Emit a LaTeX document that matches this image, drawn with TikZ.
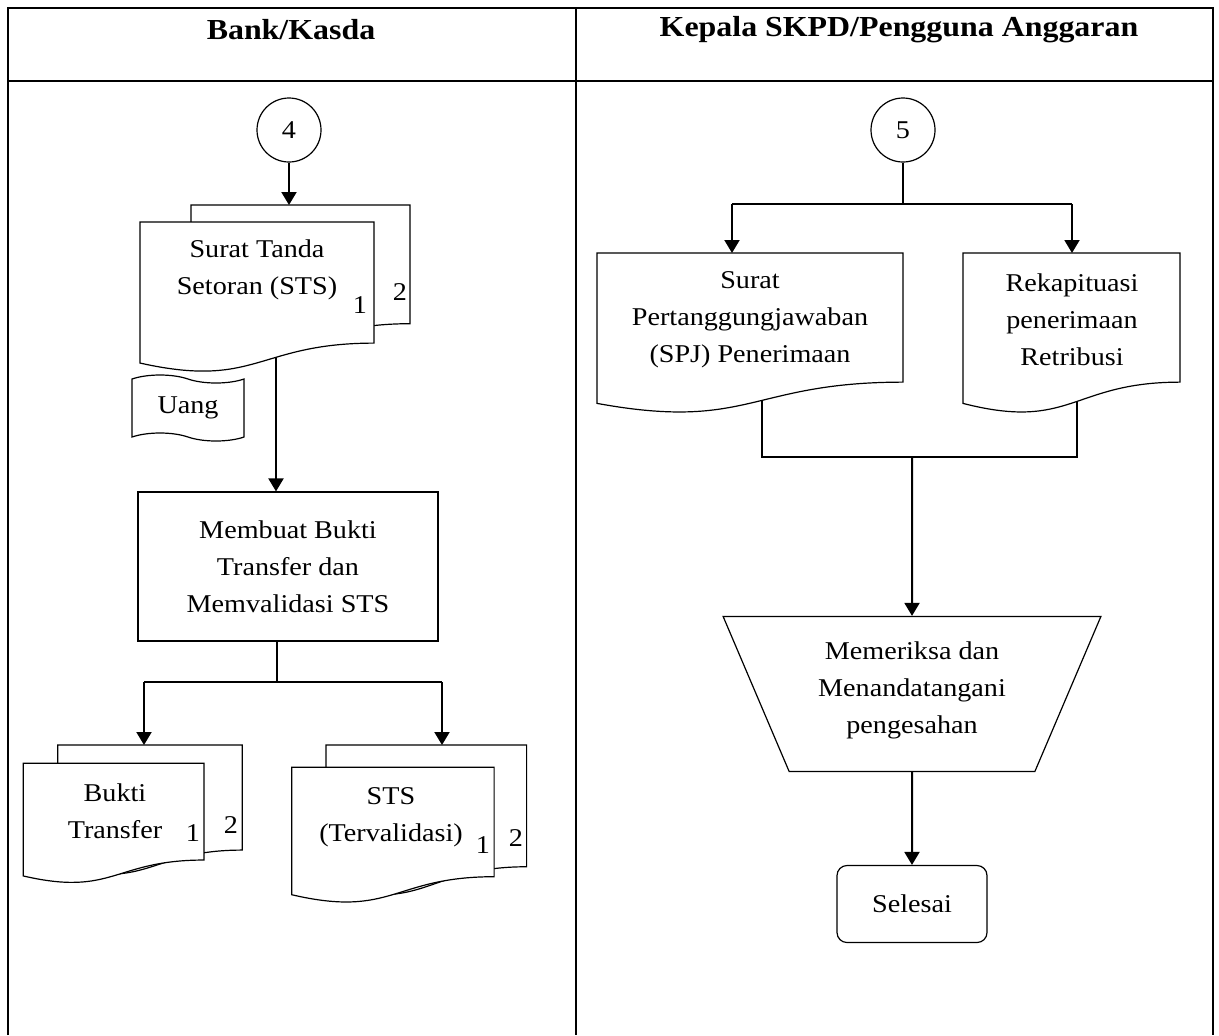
\documentclass[tikz,border=0pt]{standalone}
\usepackage{fontspec}
\setmainfont{Liberation Serif}[FakeStretch=1.1]
\usetikzlibrary{shapes.geometric, shapes.symbols, arrows.meta, calc}
\pgfdeclarelayer{latar}
\pgfsetlayers{latar,main}
\tikzstyle{arrow} = [
	line width=1pt,
	-{Triangle[length=6.5pt,width=7.5pt]},
	black,
]
\tikzstyle{garis} = [line width=0.6pt, black]
\tikzstyle{tabel} = [line width=1.1pt, black]
\tikzstyle{teks} = [
  align=center,
  inner sep=0pt,
  font=\fontsize{12.8}{18.5}\selectfont
]
\tikzstyle{judul} = [
  align=center,
  font=\fontsize{14.5}{16}\selectfont\bfseries
]
\tikzstyle{lembar} = [
  rectangle,
  inner sep=0pt,
  outer sep=0pt,
  anchor=north west
]
\tikzstyle{konektor} = [
  circle,
  minimum size=32pt,
  inner sep=0pt,
  draw=black,
  line width=0.6pt,
  fill=white,
  teks
]
\tikzstyle{proses} = [
  rectangle,
  minimum width=150pt,
  minimum height=74.5pt,
  draw=black,
  line width=0.6pt,
  fill=white,
  teks
]
\tikzstyle{pita} = [
  tape,
  tape bend top=out and in,
  tape bend bottom=out and in,
  tape bend height=4pt,
  minimum width=56pt,
  minimum height=33pt,
  inner sep=0pt,
  draw=black,
  line width=0.6pt,
  fill=white,
  teks
]
\tikzstyle{periksa} = [
  trapezium,
  trapezium left angle=115.7,
  trapezium right angle=115.7,
  trapezium stretches=true,
  minimum width=189pt,
  minimum height=77.5pt,
  draw=black,
  line width=0.6pt,
  fill=white,
  teks
]
\tikzstyle{terminal} = [
  rectangle,
  rounded corners=5pt,
  minimum width=75pt,
  minimum height=38.5pt,
  draw=black,
  line width=0.6pt,
  fill=white,
  teks
]
% outline of a document sheet, wavy bottom
\newcommand{\dokumen}[1]{%
  \draw[garis, fill=white] (#1.north west) -- (#1.north east)
    -- ($(#1.north east)!0.802!(#1.south east)$)
    .. controls ($(#1.north)!0.802!(#1.south)$) and ($(#1.north)!1.1075!(#1.south)$)
    .. ($(#1.north west)!0.934!(#1.south west)$) -- cycle;}

\begin{document}
\begin{tikzpicture}[x=0.5pt, y=-0.5pt]
    \useasboundingbox (0,0) rectangle (1219,1035);

    % table
    \draw[tabel] (8,1035) -- (8,8) -- (1213,8) -- (1213,1035);
    \draw[tabel] (8,81) -- (1213,81);
    \draw[tabel] (576,8) -- (576,1035);
    \node[judul] (kolomkiri) at (291,30) {Bank/Kasda};
    \node[judul] (kolomkanan) at (899,30) {Kepala SKPD/Pengguna Anggaran};

    %% Bank/Kasda
    \node[konektor] (c4) at (289,130) {4};
    \node[pita] (uang) at (188,408) {Uang};

    \node[lembar, minimum width=109.5pt, minimum height=74pt] (sts2) at (191,205) {};
    \dokumen{sts2}
    \node[lembar, minimum width=117pt, minimum height=75.5pt] (sts1) at (140,222) {};
    \dokumen{sts1}
    \node[teks] (sts1txt) at (257,270) {Surat Tanda\\Setoran (STS)};
    \node[teks] (sts1no) at (360,305) {1};
    \node[teks] (sts2no) at (400,292) {2};

    \node[proses] (proc) at (288,566.5) {Membuat Bukti\\Transfer dan\\Memvalidasi STS};

    \node[lembar, minimum width=92.3pt, minimum height=65.5pt] (bukti2) at (57.7,745) {};
    \dokumen{bukti2}
    \node[lembar, minimum width=90.3pt, minimum height=60.3pt] (bukti1) at (23.3,763.3) {};
    \dokumen{bukti1}
    \node[teks] (bukti1txt) at (115,811.5) {Bukti\\Transfer};
    \node[teks] (bukti1no) at (193,833) {1};
    \node[teks] (bukti2no) at (231,825) {2};

    \node[lembar, minimum width=100.3pt, minimum height=75.9pt] (stsv2) at (326,745) {};
    \dokumen{stsv2}
    \node[lembar, minimum width=101.2pt, minimum height=68.2pt] (stsv1) at (291.7,767.3) {};
    \dokumen{stsv1}
    \node[teks] (stsv1txt) at (391,817) {STS\\(Tervalidasi)};
    \node[teks] (stsv1no) at (483,845) {1};
    \node[teks] (stsv2no) at (516,838) {2};

    %% Kepala SKPD
    \node[konektor] (c5) at (903,130) {5};

    \node[lembar, minimum width=153pt, minimum height=80.5pt] (spj) at (597,253) {};
    \dokumen{spj}
    \node[teks] (spjtxt) at (750,320) {Surat\\Pertanggungjawaban\\(SPJ) Penerimaan};
    \node[lembar, minimum width=108.5pt, minimum height=80.5pt] (rekap) at (963,253) {};
    \dokumen{rekap}
    \node[teks] (rekaptxt) at (1072,320) {Rekapituasi\\penerimaan\\Retribusi};

    \node[periksa] (cek) at (912,694) {Memeriksa dan\\Menandatangani\\pengesahan\\[-12pt]};
    \node[terminal] (selesai) at (912,904) {Selesai};

    \begin{pgfonlayer}{latar}
      \coordinate (masuk) at ($(proc.north)+(-12,0)$);
      \coordinate (cabang) at (277,682);
      \coordinate (cabangkiri) at (144,682);
      \coordinate (cabangkanan) at (442,682);
      \coordinate (cab5) at (903,204);
      \coordinate (cab5kiri) at (732,204);
      \coordinate (cab5kanan) at (1072,204);
      \coordinate (gabkiri) at (762,457);
      \coordinate (gabkanan) at (1077,457);
      \coordinate (gabtengah) at (912,457);

      \draw[arrow] (c4) -- (c4 |- sts2.north);
      \draw[arrow] (sts1 -| masuk) -- (masuk);
      \draw[garis] (proc.south -| cabang) -- (cabang);
      \draw[garis] (cabangkiri) -- (cabangkanan);
      \draw[arrow] (cabangkiri) -- (cabangkiri |- bukti2.north);
      \draw[arrow] (cabangkanan) -- (cabangkanan |- stsv2.north);

      \draw[garis] (c5) -- (cab5);
      \draw[garis] (cab5kiri) -- (cab5kanan);
      \draw[arrow] (cab5kiri) -- (cab5kiri |- spj.north);
      \draw[arrow] (cab5kanan) -- (cab5kanan |- rekap.north);
      \draw[garis] (spj -| gabkiri) -- (gabkiri) -- (gabkanan) -- (rekap -| gabkanan);
      \draw[arrow] (gabtengah) -- (cek.north);
      \draw[arrow] (cek) -- (selesai);
    \end{pgfonlayer}
  \end{tikzpicture}
\end{document}
